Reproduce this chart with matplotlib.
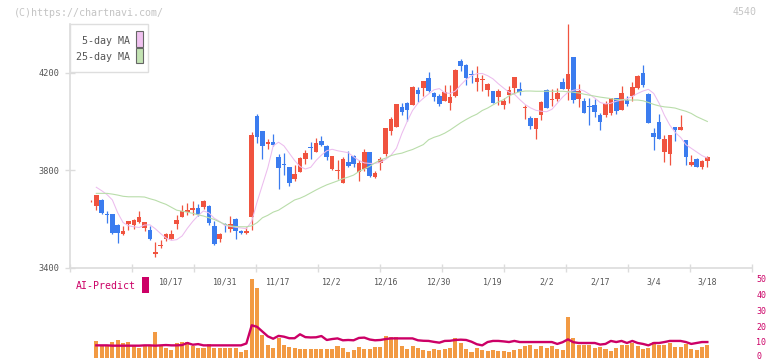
import numpy as np
import matplotlib
matplotlib.use("Agg")
import matplotlib.pyplot as plt
from matplotlib.patches import Rectangle
from matplotlib.transforms import blended_transform_factory, ScaledTranslation

# ---------------- data (first entry = leading doji without volume) ----------------
opens = [3672, 3653, 3678, 3621, 3619, 3575, 3540, 3579, 3575, 3589,
         3564, 3555, 3456, 3488, 3516, 3519, 3579, 3609, 3628, 3635,
         3645, 3648, 3653, 3571, 3516, 3579, 3560, 3600, 3551, 3541,
         3609, 4022, 3961, 3907, 3917, 3855, 3823, 3813, 3765, 3794,
         3846, 3895, 3876, 3920, 3900, 3806, 3797, 3749, 3835, 3858,
         3791, 3806, 3876, 3773, 3831, 3866, 3962, 3976, 4058, 4077,
         4067, 4129, 4139, 4177, 4118, 4104, 4084, 4077, 4104, 4248,
         4231, 4195, 4163, 4172, 4129, 4125, 4102, 4069, 4110, 4138,
         4133, 4056, 4015, 3970, 4027, 4131, 4087, 4093, 4160, 4134,
         4264, 4094, 4082, 4060, 4066, 4025, 4025, 4035, 4096, 4048,
         4089, 4103, 4137, 4199, 4113, 3953, 3998, 3875, 3866, 3977,
         3966, 3925, 3823, 3847, 3815, 3839]
highs = [3676, 3699, 3681, 3633, 3621, 3579, 3571, 3592, 3598, 3633,
         3588, 3571, 3507, 3512, 3541, 3555, 3616, 3658, 3664, 3672,
         3661, 3678, 3657, 3592, 3541, 3585, 3612, 3602, 3553, 3568,
         3958, 4031, 3961, 3927, 3949, 3866, 3869, 3815, 3821, 3856,
         3883, 3917, 3931, 3940, 3902, 3860, 3840, 3853, 3880, 3862,
         3842, 3888, 3876, 3796, 3854, 3974, 4020, 4073, 4077, 4081,
         4145, 4143, 4166, 4203, 4122, 4113, 4150, 4150, 4215, 4256,
         4234, 4211, 4227, 4190, 4156, 4125, 4132, 4095, 4147, 4183,
         4161, 4066, 4022, 4015, 4085, 4135, 4135, 4136, 4178, 4400,
         4264, 4154, 4096, 4096, 4092, 4035, 4083, 4096, 4096, 4144,
         4103, 4162, 4192, 4230, 4117, 3973, 4031, 3943, 3946, 3977,
         4026, 3925, 3864, 3850, 3843, 3858]
lows = [3671, 3637, 3620, 3585, 3540, 3500, 3534, 3555, 3557, 3585,
        3552, 3514, 3443, 3481, 3511, 3516, 3560, 3607, 3616, 3616,
        3612, 3640, 3577, 3494, 3507, 3548, 3548, 3516, 3540, 3540,
        3555, 3910, 3845, 3887, 3901, 3724, 3780, 3737, 3756, 3794,
        3825, 3845, 3876, 3901, 3842, 3800, 3765, 3749, 3815, 3815,
        3757, 3798, 3773, 3767, 3801, 3860, 3945, 3976, 4025, 4003,
        4067, 4078, 4106, 4122, 4085, 4063, 4084, 4047, 4102, 4208,
        4150, 4159, 4126, 4126, 4106, 4074, 4067, 4052, 4075, 4114,
        4109, 4010, 3970, 3930, 4006, 4055, 4065, 4082, 4133, 4090,
        4076, 4058, 4035, 3984, 4017, 3965, 4017, 4028, 4032, 4048,
        4065, 4085, 4135, 4141, 3994, 3884, 3929, 3834, 3823, 3921,
        3966, 3823, 3816, 3815, 3806, 3815]
closes = [3675, 3698, 3623, 3617, 3541, 3541, 3551, 3592, 3596, 3608,
          3588, 3516, 3466, 3492, 3537, 3537, 3596, 3633, 3637, 3645,
          3616, 3674, 3582, 3496, 3537, 3574, 3580, 3549, 3542, 3549,
          3944, 3938, 3899, 3914, 3903, 3810, 3820, 3749, 3784, 3850,
          3872, 3892, 3910, 3903, 3856, 3858, 3800, 3846, 3817, 3825,
          3831, 3876, 3776, 3790, 3848, 3973, 4010, 4072, 4040, 4047,
          4143, 4113, 4166, 4126, 4102, 4072, 4119, 4100, 4211, 4227,
          4180, 4192, 4180, 4174, 4154, 4077, 4125, 4085, 4130, 4182,
          4122, 4058, 3982, 4014, 4080, 4056, 4090, 4117, 4135, 4195,
          4089, 4124, 4035, 4058, 4039, 3998, 4072, 4096, 4044, 4117,
          4072, 4141, 4188, 4151, 3994, 3938, 3929, 3929, 3946, 3964,
          3977, 3853, 3834, 3815, 3839, 3854]

ma5 = [np.nan,
       3730, 3716, 3700, 3678, 3625, 3585, 3572, 3568, 3565, 3575,
       3576, 3560, 3540, 3522, 3512, 3515, 3530, 3562, 3590, 3614,
       3633, 3625, 3603, 3590, 3573, 3570, 3566, 3563, 3560, 3590,
       3670, 3740, 3810, 3900, 3915, 3900, 3870, 3840, 3815, 3805,
       3812, 3840, 3862, 3880, 3886, 3880, 3876, 3872, 3855, 3840,
       3830, 3828, 3828, 3832, 3845, 3862, 3890, 3950, 4000, 4045,
       4075, 4095, 4113, 4130, 4135, 4118, 4115, 4125, 4150, 4172,
       4188, 4196, 4197, 4188, 4175, 4155, 4137, 4120, 4112, 4090,
       4070, 4056, 4046, 4042, 4040, 4050, 4075, 4100, 4120, 4128,
       4132, 4125, 4112, 4096, 4078, 4072, 4075, 4083, 4088, 4093,
       4103, 4115, 4125, 4132, 4115, 4075, 4025, 3985, 3955, 3935,
       3905, 3890, 3875, 3860, 3850]
ma25 = [np.nan,
        3705, 3705, 3705, 3702, 3698, 3693, 3691, 3691, 3691, 3690,
        3683, 3677, 3668, 3660, 3648, 3636, 3632, 3628, 3623, 3617,
        3612, 3605, 3598, 3588, 3578, 3571, 3569, 3568, 3568, 3572,
        3585, 3605, 3615, 3628, 3636, 3650, 3664, 3678, 3685, 3695,
        3707, 3719, 3730, 3740, 3748, 3756, 3765, 3772, 3780, 3795,
        3805, 3816, 3830, 3842, 3850, 3860, 3866, 3870, 3878, 3885,
        3895, 3905, 3925, 3935, 3942, 3952, 3965, 3980, 3995, 4008,
        4020, 4030, 4045, 4055, 4068, 4080, 4090, 4105, 4115, 4122,
        4125, 4125, 4124, 4124, 4124, 4124, 4124, 4124, 4122, 4120,
        4117, 4112, 4108, 4104, 4100, 4097, 4094, 4090, 4089, 4088,
        4088, 4088, 4085, 4078, 4070, 4064, 4060, 4058, 4055, 4048,
        4042, 4033, 4020, 4010, 4000]

volume = [np.nan,
          10.5, 7.4, 7.4, 9.9, 11.2, 9.3, 9.9, 7.4, 6.1, 7.4,
          7.4, 16.2, 7.4, 6.1, 4.9, 9.3, 9.9, 9.9, 7.4, 6.1,
          6.1, 8.7, 6.1, 6.1, 6.1, 6.1, 6.1, 3.6, 4.9, 49.7,
          44.0, 14.3, 8.0, 6.1, 12.4, 8.0, 6.8, 6.1, 5.5, 5.5,
          5.5, 5.5, 5.5, 5.5, 5.5, 7.4, 6.1, 3.6, 4.9, 6.8,
          5.5, 5.5, 6.8, 6.8, 13.7, 13.1, 13.1, 7.4, 5.5, 7.4,
          6.1, 4.9, 4.2, 5.5, 4.9, 5.5, 6.1, 12.4, 9.3, 5.5,
          3.6, 6.1, 4.9, 4.2, 4.9, 4.2, 4.2, 3.6, 4.9, 5.5,
          7.4, 8.0, 5.5, 7.4, 6.1, 7.4, 5.5, 4.9, 25.7, 12.4,
          8.0, 8.0, 8.0, 6.1, 6.8, 5.5, 4.2, 6.1, 8.0, 8.0,
          9.3, 7.4, 5.5, 6.1, 9.9, 8.0, 8.0, 9.3, 6.8, 6.8,
          8.7, 5.5, 4.9, 6.8, 8.0]
ai_predict = [np.nan,
              7.8, 7.8, 7.8, 7.6, 7.6, 7.6, 7.6, 7.6, 7.6, 7.8,
              7.8, 7.6, 7.8, 8.0, 7.8, 7.8, 8.0, 9.3, 8.2, 8.6,
              7.8, 7.8, 7.8, 7.8, 7.8, 7.8, 7.8, 7.8, 9.0, 20.5,
              19.5, 16.5, 13.5, 12.0, 13.8, 13.3, 12.3, 12.3, 14.8, 13.0,
              12.8, 12.9, 13.7, 11.2, 11.8, 12.2, 11.0, 11.2, 11.0, 12.5,
              12.7, 11.5, 11.0, 11.2, 11.8, 12.2, 12.2, 12.2, 12.2, 12.2,
              11.0, 10.7, 10.6, 10.0, 9.5, 10.6, 10.7, 11.2, 11.4, 11.2,
              10.1, 8.5, 7.8, 9.9, 10.6, 10.6, 10.3, 9.9, 10.6, 9.9,
              9.9, 9.9, 9.9, 9.9, 9.9, 9.9, 8.7, 9.8, 11.6, 9.8,
              9.3, 9.3, 9.3, 9.3, 8.3, 8.7, 10.6, 9.9, 10.6, 9.3,
              10.6, 9.3, 8.7, 7.8, 9.3, 9.3, 9.9, 10.6, 10.6, 10.6,
              9.9, 8.7, 9.3, 9.9, 9.9]

date_labels = ["10/17", "10/31", "11/17", "12/2", "12/16", "12/30",
               "1/19", "2/2", "2/17", "3/4", "3/18"]
date_label_pos = [14, 24, 34, 44, 54, 64, 74, 84, 94, 104, 114]
price_ticks = [3400, 3800, 4200]
vol_ticks = [0, 10, 20, 30, 40, 50]

# ---------------- figure ----------------
W, H = 772, 361
fig = plt.figure(figsize=(W / 100, H / 100), dpi=100)
fig.patch.set_facecolor("white")
MONO = "DejaVu Sans Mono"


def fx(px):
    return px / W


def fy(py):
    return 1 - py / H


RED = "#f0533f"
BLUE = "#3b7cef"
GRID = "#dcdcdc"
MAG = "#cc0066"

ax = fig.add_axes([fx(70), fy(267.7), fx(752.3) - fx(70), fy(24) - fy(267.7)])
vax = fig.add_axes([fx(70), fy(357.7), fx(752.3) - fx(70), fy(278.6) - fy(357.7)])

n = len(opens)
x = np.arange(n) - 1
o = np.array(opens, float)
h = np.array(highs, float)
l = np.array(lows, float)
c = np.array(closes, float)
up = c >= o
cols = np.where(up, RED, BLUE)
bottoms = np.minimum(o, c)
heights = np.maximum(np.abs(c - o), 3.5)

x0, x1 = (70 - 96.3) / 5.36, (752.3 - 96.3) / 5.36

ax.vlines(x, l, h, colors=cols, lw=0.9, zorder=2, clip_on=False)
ax.bar(x, heights, bottom=bottoms, width=0.86, color=cols, zorder=3,
       linewidth=0, clip_on=False)
ax.plot(x, ma5, color="#ecbcee", lw=0.75, zorder=4)
ax.plot(x, ma25, color="#b9ddaa", lw=0.8, zorder=4)

ax.set_xlim(x0, x1)
ax.set_ylim(3400, 4400)
for s in ["top", "right"]:
    ax.spines[s].set_visible(False)
for s in ["left", "bottom"]:
    ax.spines[s].set_color(GRID)
    ax.spines[s].set_linewidth(1.2)
ax.set_yticks(price_ticks)
ax.set_yticklabels([str(t) for t in price_ticks], fontsize=6.2,
                   color="#555555", family=MONO)
ax.tick_params(axis="y", direction="inout", length=6.5, width=1.0,
               color=GRID, pad=4.0)
ax.set_xticks(np.linspace(x0, x1, 12))
ax.set_xticklabels([])
ax.tick_params(axis="x", direction="inout", length=5.8, width=1.0, color=GRID)
ax.set_facecolor("none")

# volume panel
vax.bar(x, volume, width=0.76, color="#f29a43", linewidth=0, zorder=2)
vax.plot(x, ai_predict, color=MAG, lw=1.7, zorder=3, solid_joinstyle="round")
vax.set_xlim(x0, x1)
vax.set_ylim(0, 50)
for s in vax.spines.values():
    s.set_visible(False)
vax.set_xticks([])
vax.yaxis.tick_right()
vax.set_yticks(vol_ticks)
vax.set_yticklabels([str(t) for t in vol_ticks], fontsize=6.0, color=MAG,
                    family=MONO)
vax.tick_params(axis="y", length=0, pad=3)
vax.set_facecolor("none")
# nudge the bottom "0" label up so it stays inside the canvas
lab0 = vax.get_yticklabels()[0]
lab0.set_transform(lab0.get_transform() +
                   ScaledTranslation(0, 2.2 / 100, fig.dpi_scale_trans))

tr = blended_transform_factory(vax.transData, vax.transAxes)
for pos, lab in zip(date_label_pos, date_labels):
    vax.text(pos, (357.7 - 282.3) / 79.1, lab, transform=tr, ha="center",
             va="center", fontsize=5.9, color="#555555", family=MONO)

# texts
fig.text(fx(14), fy(12.7), "(C)https://chartnavi.com/", fontsize=7.2,
         color="#c4c4c4", family=MONO, va="center", ha="left")
fig.text(fx(757), fy(12.3), "4540", fontsize=7.2, color="#c4c4c4",
         family=MONO, va="center", ha="right")
fig.text(fx(75.7), fy(286), "AI-Predict", fontsize=7.1, color=MAG,
         family=MONO, va="center", ha="left")
fig.add_artist(Rectangle((fx(142), fy(292.7)), fx(6.7), fy(277.3) - fy(292.7),
                         transform=fig.transFigure, facecolor=MAG,
                         edgecolor="none", zorder=5))

# legend box
fig.add_artist(Rectangle((fx(70.3), fy(71.7)), fx(78), fy(24) - fy(71.7),
                         transform=fig.transFigure, facecolor="white",
                         edgecolor="#dedede", lw=1.0, zorder=5))
fig.text(fx(129.5), fy(40.7), "5-day MA", fontsize=7.2, color="#555555",
         family=MONO, va="center", ha="right", zorder=6)
fig.text(fx(129.5), fy(56.7), "25-day MA", fontsize=7.2, color="#555555",
         family=MONO, va="center", ha="right", zorder=6)
fig.add_artist(Rectangle((fx(136.3), fy(46.5)), fx(6.2), fy(31.3) - fy(46.5),
                         transform=fig.transFigure, facecolor="#f0c2f0",
                         edgecolor="#666666", lw=0.8, zorder=6))
fig.add_artist(Rectangle((fx(136.3), fy(63.2)), fx(6.2), fy(48.5) - fy(63.2),
                         transform=fig.transFigure, facecolor="#c3e3b3",
                         edgecolor="#666666", lw=0.8, zorder=6))

fig.savefig("out.png", dpi=100)
